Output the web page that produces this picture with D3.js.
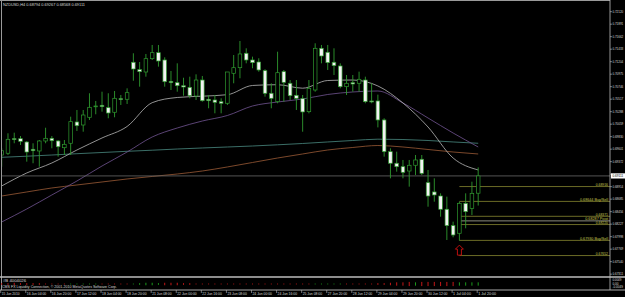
<!DOCTYPE html>
<html>
<head>
<meta charset="utf-8">
<script src="https://cdn.jsdelivr.net/npm/d3@7"></script>
<style>
  body { margin: 0; background: #000; }
  svg { display: block; }
  text { font-family: "Liberation Sans", "DejaVu Sans", sans-serif; font-size: 4px; fill: #d8d8d8; }
</style>
</head>
<body>
<svg id="chart" width="625" height="297"></svg>
<script>
// NZDUSD H4, 15 Jun - 1 Jul 2010
const opens = [0.69494,0.69526,0.69793,0.69793,0.69732,0.69599,0.69568,0.69751,0.69800,0.69751,
  0.69628,0.69709,0.70099,0.70044,0.70185,0.70380,0.70405,0.70361,0.70277,0.70526,
  0.70515,0.71193,0.71058,0.71015,0.71259,0.71369,0.71235,0.70844,0.70819,0.70764,
  0.70734,0.70575,0.70868,0.70515,0.70502,0.70471,0.70442,0.70991,0.71094,0.71358,
  0.71235,0.71198,0.71039,0.70625,0.70471,0.71021,0.70808,0.70588,0.70526,0.70288,
  0.70685,0.71449,0.71376,0.71193,0.71125,0.70746,0.70819,0.70808,0.70868,0.70484,
  0.70484,0.70136,0.69555,0.69343,0.69280,0.69201,0.69306,0.69416,0.68987,0.68817,
  0.68743,0.68500,0.68200,0.68060,0.68609,0.68517,0.68794];
const highs = [0.69617,0.69892,0.69903,0.69842,0.69751,0.69709,0.69769,0.69994,0.69842,0.69769,
  0.69769,0.70196,0.70319,0.70319,0.70625,0.70484,0.70654,0.70625,0.70667,0.70594,
  0.70716,0.71358,0.71198,0.71345,0.71510,0.71510,0.71284,0.71034,0.71174,0.70910,
  0.70929,0.70972,0.70942,0.70594,0.70594,0.70533,0.71015,0.71326,0.71583,0.71449,
  0.71296,0.71266,0.71065,0.70808,0.71387,0.71052,0.70868,0.70868,0.70594,0.70868,
  0.71541,0.71510,0.71510,0.71449,0.71174,0.70960,0.70960,0.71021,0.70929,0.70808,
  0.70600,0.70167,0.69617,0.69555,0.69403,0.69403,0.69494,0.69494,0.69220,0.69067,
  0.68792,0.68731,0.68273,0.68639,0.68792,0.69005,0.69267];
const lows = [0.69280,0.69494,0.69709,0.69678,0.69372,0.69343,0.69280,0.69709,0.69617,0.69464,
  0.69494,0.69494,0.69934,0.69921,0.70136,0.70240,0.70288,0.70167,0.70185,0.70411,
  0.70429,0.70855,0.70746,0.70929,0.71235,0.71113,0.70746,0.70685,0.70654,0.70581,
  0.70533,0.70502,0.70471,0.70350,0.70258,0.70258,0.70411,0.70808,0.70900,0.71174,
  0.71083,0.71021,0.70563,0.70350,0.70442,0.70471,0.70502,0.70319,0.69921,0.70258,
  0.70654,0.71174,0.71052,0.70960,0.70716,0.70594,0.70654,0.70654,0.70442,0.70442,
  0.70000,0.69464,0.69067,0.69189,0.69067,0.68914,0.69128,0.69128,0.68547,0.68639,
  0.68364,0.67937,0.67986,0.67925,0.68151,0.68395,0.68568];
const closes = [0.69573,0.69782,0.69782,0.69745,0.69549,0.69573,0.69751,0.69800,0.69756,0.69646,
  0.69690,0.70105,0.70031,0.70227,0.70368,0.70392,0.70380,0.70264,0.70533,0.70515,
  0.70636,0.71070,0.71021,0.71259,0.71369,0.71217,0.70837,0.70819,0.70764,0.70740,
  0.70581,0.70868,0.70489,0.70489,0.70460,0.70442,0.71015,0.71094,0.71345,0.71235,
  0.71186,0.71052,0.70625,0.70533,0.71002,0.70826,0.70581,0.70533,0.70283,0.70716,
  0.71449,0.71308,0.71186,0.71131,0.70746,0.70808,0.70795,0.70881,0.70471,0.70466,
  0.70136,0.69555,0.69343,0.69280,0.69177,0.69306,0.69403,0.69159,0.68743,0.68762,
  0.68500,0.68200,0.68029,0.68609,0.68456,0.68792,0.69111];

// time axis labels, one every 4 bars
const timeLabels = ["15 Jun 2010","16 Jun 04:00","16 Jun 20:00","17 Jun 12:00","18 Jun 04:00",
  "18 Jun 20:00","21 Jun 08:00","22 Jun 00:00","22 Jun 16:00","23 Jun 08:00","24 Jun 00:00",
  "24 Jun 16:00","25 Jun 08:00","27 Jun 20:00","28 Jun 12:00","29 Jun 04:00","29 Jun 20:00",
  "30 Jun 12:00","1 Jul 04:00","1 Jul 20:00"];

const priceTicks = [0.72120,0.71891,0.71662,0.71433,0.71204,0.70975,0.70746,0.70517,0.70288,
  0.70059,0.69830,0.69601,0.69372,0.69143,0.68914,0.68685,0.68456,0.68227,0.67998,0.67769,
  0.67540,0.67311];

// moving averages sampled every 4 bars (bars 0,4,...,76)
const maWhite = [0.68927,0.69165,0.69348,0.69586,0.69806,0.70017,0.70453,0.70548,0.70572,0.70599,
  0.70768,0.70782,0.70718,0.70859,0.70868,0.70759,0.70447,0.70007,0.69439,0.69220];
const maPurple = [0.68267,0.68505,0.68762,0.69018,0.69293,0.69549,0.69824,0.69989,0.70117,0.70218,
  0.70392,0.70465,0.70520,0.70603,0.70649,0.70667,0.70447,0.70172,0.69897,0.69641];
const maTeal = [0.69452,0.69472,0.69494,0.69518,0.69540,0.69562,0.69582,0.69604,0.69623,0.69641,
  0.69659,0.69681,0.69705,0.69733,0.69760,0.69784,0.69778,0.69760,0.69733,0.69709];
const maOrange = [0.68743,0.68817,0.68890,0.68945,0.69000,0.69055,0.69101,0.69146,0.69201,0.69275,
  0.69357,0.69439,0.69513,0.69586,0.69632,0.69668,0.69641,0.69595,0.69549,0.69513];

// pivot levels drawn from the 30 Jun low bar
const levelValues = [0.68916,0.68644,0.68371,0.68287,0.68220,0.67930,0.67652];
const levelNames = ["0.68916","0.68644 Buy/Sell","0.68371","0.68287 Pivot","0.68220","0.67930 Buy/Sell","0.67652"];
const levelStartBar = 73;

// oscillator in the sub window
const oscValues = [-2,-2,-3,-2,-2,-2,-2,-1,
  -1,-1,-1,1,1,1,1,1,
  -1,-1,-1,-1,-1,1,2,3,
  3,2,-3,-3,-3,-2,-2,-1,
  -1,-1,-1,-1,-1,-1,-1,-1,
  -1,-1,-1,-1,-1,-1,-1,-1,
  -1,-1,1,1,1,1,1,-1,
  -1,-1,-1,-1,-2,-2,-3,-4,
  -4,-5,4,-5,-5,-5,-5,-5,
  -5,4,4,4,4];
const oscTickLabels = ["0.0049", "0.00", "-0.0049"];

const currentPrice = 0.69111;
const title = "NZDUSD,H4  0.68794 0.69267 0.68568 0.69111";
const subTitle = "#B 4004026";
const copyright = "CMS FX Liquidity Connection, \u00a9 2001-2010 MetaQuotes Software Corp.";

const svg = d3.select("#chart");
const W = 625, H = 297;
const axisX = 610;
const mainTop = 1, mainBottom = 277, subBottom = 290;

// squeeze a text to the narrow width the MT4 font takes
function fit(sel, perChar) {
  sel.attr("textLength", (d, i, n) => n[i].textContent.length * perChar)
    .attr("lengthAdjust", "spacingAndGlyphs");
}

svg.append("rect").attr("width", W).attr("height", H).attr("fill", "#000");

const x = d3.scaleLinear().domain([0, 76]).range([1.7, 478.2]);
const y = d3.scaleLinear().domain([0.72334, 0.67259]).range([0, 277]);

svg.append("clipPath").attr("id", "main-clip")
  .append("rect").attr("x", 2).attr("y", mainTop + 1).attr("width", axisX - 2).attr("height", mainBottom - mainTop - 2);

const plot = svg.append("g").attr("clip-path", "url(#main-clip)");

//Moving averages
const maIdx = d3.range(0, 77, 4);
function drawMA(values, color) {
  const line = d3.line().x((d, i) => x(maIdx[i])).y((d) => y(d)).curve(d3.curveMonotoneX);
  plot.append("path").datum(values).attr("d", line)
    .attr("fill", "none").attr("stroke", color).attr("stroke-width", 0.8);
}
drawMA(maOrange, "#9a5a36");
drawMA(maTeal, "#4a8a82");
drawMA(maPurple, "#715492");
drawMA(maWhite, "#b8b8b8");

//Current bid line
plot.append("line").attr("x1", 2).attr("x2", axisX)
  .attr("y1", y(currentPrice)).attr("y2", y(currentPrice))
  .attr("stroke", "#6a6a6a").attr("stroke-width", 0.8);

//Pivot level lines
const levels = levelValues.map((v, i) => ({ v, name: levelNames[i] }));
plot.selectAll("line.level").data(levels).join("line").classed("level", true)
  .attr("x1", x(levelStartBar)).attr("x2", axisX)
  .attr("y1", (d) => y(d.v)).attr("y2", (d) => y(d.v))
  .attr("stroke", (d) => d.name.includes("Pivot") ? "#9a9a8a" : "#77772a")
  .attr("stroke-width", 0.9);
plot.selectAll("text.level").data(levels).join("text").classed("level", true)
  .attr("x", axisX - 2).attr("y", (d) => y(d.v) - 0.8)
  .attr("text-anchor", "end").style("fill", "#c8c850")
  .text((d) => d.name)
  .call(fit, 1.75);

//Candles
const bars = d3.range(closes.length).map((i) => ({
  i, o: opens[i], h: highs[i], l: lows[i], c: closes[i],
}));
plot.selectAll("line.wick").data(bars).join("line").classed("wick", true)
  .attr("x1", (d) => x(d.i)).attr("x2", (d) => x(d.i))
  .attr("y1", (d) => y(d.h)).attr("y2", (d) => y(d.l))
  .attr("stroke", "#2f9a2f").attr("stroke-width", 0.9);
plot.selectAll("rect.body").data(bars).join("rect").classed("body", true)
  .attr("x", (d) => x(d.i) - 1.8).attr("width", 3.6)
  .attr("y", (d) => y(Math.max(d.o, d.c)))
  .attr("height", (d) => Math.max(0.8, Math.abs(y(d.o) - y(d.c))))
  .attr("fill", (d) => d.c >= d.o ? "#000" : "#f2f2f2")
  .attr("stroke", "#2f9a2f").attr("stroke-width", 0.7);

//Arrow under the low
const lowBar = bars[levelStartBar];
const ax = x(lowBar.i), ay = y(lowBar.l) + 4.5;
plot.append("path")
  .attr("d", `M${ax},${ay} l4,4 h-2 v6 h-4 v-6 h-2 z`)
  .attr("fill", "none").attr("stroke", "#d01010").attr("stroke-width", 0.9);

//Title
svg.append("text").attr("x", 3).attr("y", 5.5).text(title).call(fit, 1.95);

//Frame
svg.append("line").attr("x1", 0).attr("x2", axisX).attr("y1", 0.5).attr("y2", 0.5)
  .attr("stroke", "#9a9a9a").attr("stroke-width", 1);
svg.append("line").attr("x1", 1.5).attr("x2", 1.5).attr("y1", 0).attr("y2", subBottom)
  .attr("stroke", "#9a9a9a").attr("stroke-width", 1);
svg.append("line").attr("x1", axisX).attr("x2", axisX).attr("y1", 0).attr("y2", subBottom)
  .attr("stroke", "#bdbdbd").attr("stroke-width", 0.8);
svg.append("line").attr("x1", 0).attr("x2", W).attr("y1", mainBottom).attr("y2", mainBottom)
  .attr("stroke", "#bdbdbd").attr("stroke-width", 1.6);
svg.append("line").attr("x1", 0).attr("x2", W).attr("y1", subBottom).attr("y2", subBottom)
  .attr("stroke", "#bdbdbd").attr("stroke-width", 0.9);

//Price axis (the label under the bid box is hidden, as in MT4)
const shownTicks = priceTicks.filter((d) => Math.abs(y(d) - y(currentPrice)) > 4);
const yAxis = svg.append("g");
yAxis.selectAll("line").data(priceTicks).join("line")
  .attr("x1", axisX).attr("x2", axisX + 2)
  .attr("y1", (d) => y(d)).attr("y2", (d) => y(d))
  .attr("stroke", "#bdbdbd").attr("stroke-width", 0.6);
yAxis.selectAll("text").data(shownTicks).join("text")
  .attr("x", axisX + 2.4).attr("y", (d) => y(d) + 1.2)
  .style("font-size", "3.1px")
  .text((d) => d.toFixed(5))
  .call(fit, 1.55);

//Bid price box
svg.append("rect").attr("x", axisX + 1).attr("y", y(currentPrice) - 2.6)
  .attr("width", W - axisX - 1).attr("height", 5.2).attr("fill", "#ffffff");
svg.append("text").attr("x", axisX + 2.4).attr("y", y(currentPrice) + 1.2)
  .style("fill", "#000").style("font-size", "3.1px").text(currentPrice.toFixed(5))
  .call(fit, 1.55);

//Sub window oscillator
const oscY = d3.scaleLinear().domain([-6, 6]).range([289, 279]);
svg.selectAll("line.osc").data(oscValues).join("line").classed("osc", true)
  .attr("x1", (d, i) => x(i)).attr("x2", (d, i) => x(i))
  .attr("y1", (d) => oscY(0) - Math.abs(oscY(d) - oscY(0)) / 2)
  .attr("y2", (d) => oscY(0) + Math.abs(oscY(d) - oscY(0)) / 2)
  .attr("stroke", (d) => d >= 0 ? "#1c9a1c" : "#c41818").attr("stroke-width", 1);
svg.append("text").attr("x", 3).attr("y", 282.3).text(subTitle).call(fit, 2.3);
svg.append("text").attr("x", 2).attr("y", 288.2).text(copyright).call(fit, 1.74);
svg.selectAll("text.osc").data(oscTickLabels).join("text").classed("osc", true)
  .attr("x", axisX + 2.4).attr("y", (d, i) => 281 + i * 3.6)
  .style("font-size", "2.8px").text((d) => d)
  .call(fit, 1.5);

//Time axis
const xTicks = timeLabels.map((t, k) => ({ t, bar: k * 4 }));
svg.selectAll("line.xtick").data(xTicks).join("line").classed("xtick", true)
  .attr("x1", (d) => x(d.bar) - 1).attr("x2", (d) => x(d.bar) - 1)
  .attr("y1", subBottom).attr("y2", subBottom + 3)
  .attr("stroke", "#bdbdbd").attr("stroke-width", 0.6);
svg.selectAll("text.xtick").data(xTicks).join("text").classed("xtick", true)
  .attr("x", (d) => x(d.bar)).attr("y", 295.3)
  .text((d) => d.t)
  .call(fit, 1.62);
</script>
</body>
</html>
